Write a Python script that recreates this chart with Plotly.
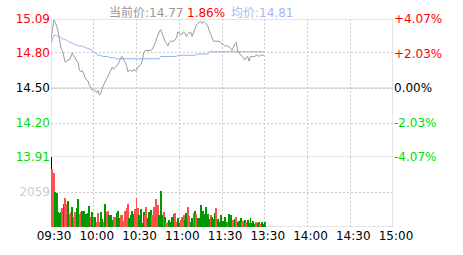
import plotly.graph_objects as go

# ---------------- data ----------------
prev_close = 14.50
cur_price = 14.77
cur_pct = 1.86
avg_price_now = 14.81

price_ticks = [13.91, 14.20, 14.50, 14.80, 15.09]
pct_ticks = [-4.07, -2.03, 0.00, 2.03, 4.07]
vol_tick = 2059
vol_max = 4118

time_tickvals = [0, 30, 60, 90, 120, 150, 180, 210, 240]
time_ticktext = ["09:30", "10:00", "10:30", "11:00", "11:30", "13:30", "14:00", "14:30", "15:00"]

minutes = list(range(151))

prices = [
    14.92, 15.01, 15.08, 15.06, 15.03, 14.98, 14.89, 14.84, 14.82, 14.78,
    14.72, 14.73, 14.74, 14.74, 14.78, 14.80, 14.77, 14.76, 14.73, 14.72,
    14.65, 14.64, 14.65, 14.61, 14.59, 14.57, 14.56, 14.52, 14.50, 14.48,
    14.49, 14.48, 14.46, 14.48, 14.44, 14.46, 14.50, 14.53, 14.56, 14.58,
    14.60, 14.63, 14.65, 14.68, 14.66, 14.68, 14.69, 14.70, 14.73, 14.76,
    14.77, 14.75, 14.72, 14.69, 14.64, 14.65, 14.65, 14.64, 14.66, 14.65,
    14.65, 14.68, 14.69, 14.70, 14.73, 14.80, 14.82, 14.82, 14.82, 14.82,
    14.82, 14.83, 14.85, 14.88, 14.92, 14.96, 14.98, 15.00, 14.96, 14.93,
    14.90, 14.88, 14.86, 14.89, 14.90, 14.90, 14.90, 14.91, 14.93, 14.98,
    14.97, 14.96, 14.96, 14.98, 14.97, 14.94, 14.96, 14.97, 14.98, 14.94,
    14.98, 15.02, 15.04, 15.05, 15.06, 15.07, 15.05, 15.07, 15.06, 15.04,
    15.03, 14.99, 14.96, 14.92, 14.90, 14.90, 14.90, 14.90, 14.90, 14.89,
    14.88, 14.87, 14.86, 14.86, 14.86, 14.85, 14.84, 14.82, 14.86, 14.88,
    14.89, 14.82, 14.80, 14.78, 14.77, 14.76, 14.74, 14.76, 14.77, 14.73,
    14.77, 14.77, 14.77, 14.77, 14.78, 14.78, 14.77, 14.78, 14.78, 14.78,
    14.77,
]

avg_prices = [
    14.88, 14.92, 14.95, 14.95, 14.95, 14.94, 14.94, 14.93, 14.92, 14.92,
    14.91, 14.91, 14.90, 14.89, 14.89, 14.88, 14.88, 14.87, 14.87, 14.86,
    14.86, 14.86, 14.86, 14.85, 14.85, 14.84, 14.84, 14.83, 14.83, 14.82,
    14.81, 14.80, 14.79, 14.78, 14.78, 14.78, 14.77, 14.77, 14.77, 14.77,
    14.77, 14.76, 14.76, 14.76, 14.76, 14.75, 14.75, 14.75, 14.75, 14.75,
    14.745, 14.745, 14.745, 14.745, 14.745, 14.745, 14.745, 14.745, 14.745, 14.745,
    14.745, 14.745, 14.745, 14.745, 14.75, 14.75, 14.75, 14.75, 14.75, 14.75,
    14.75, 14.75, 14.75, 14.75, 14.75, 14.75, 14.75, 14.77, 14.77, 14.77,
    14.77, 14.77, 14.77, 14.77, 14.77, 14.77, 14.77, 14.77, 14.77, 14.78,
    14.78, 14.78, 14.78, 14.78, 14.78, 14.78, 14.78, 14.78, 14.78, 14.78,
    14.78, 14.78, 14.79, 14.79, 14.79, 14.79, 14.79, 14.79, 14.79, 14.79,
    14.79, 14.81, 14.81, 14.81, 14.81, 14.81, 14.81, 14.81, 14.81, 14.81,
    14.81, 14.81, 14.81, 14.81, 14.81, 14.81, 14.81, 14.81, 14.81, 14.81,
    14.81, 14.81, 14.81, 14.81, 14.81, 14.81, 14.81, 14.81, 14.81, 14.81,
    14.81, 14.81, 14.81, 14.81, 14.81, 14.81, 14.81, 14.81, 14.81, 14.81,
    14.81,
]

volumes = [
    4118, 3390, 3170, 2060, 2000, 890, 800, 880, 1130, 1340,
    1720, 1350, 1500, 780, 880, 1190, 580, 880, 1130, 1630,
    780, 860, 950, 950, 740, 740, 800, 1220, 590, 880,
    590, 590, 300, 830, 270, 880, 460, 270, 1340, 880,
    950, 700, 720, 430, 590, 590, 840, 950, 500, 720,
    680, 360, 920, 1090, 1340, 500, 720, 950, 760, 1060,
    1720, 1090, 700, 1060, 260, 880, 700, 1170, 500, 900,
    1000, 730, 1200, 1050, 1630, 1310, 680, 2100, 720, 890,
    560, 220, 320, 400, 280, 580, 770, 820, 320, 500,
    250, 400, 600, 720, 420, 800, 1190, 620, 300, 500,
    820, 940, 760, 540, 540, 1280, 920, 950, 760, 1190,
    760, 460, 720, 560, 460, 820, 1130, 480, 280, 720,
    300, 350, 560, 320, 280, 780, 680, 320, 400, 460,
    600, 300, 380, 500, 280, 350, 420, 300, 400, 260,
    500, 230, 350, 200, 280, 220, 300, 200, 300, 180,
    280,
]

# 2 = opening auction, 1 = up (red), 0 = down (green)
vol_dir = [
    2, 1, 1, 0, 0, 0, 0, 0, 1, 0,
    1, 1, 0, 1, 1, 0, 1, 1, 0, 0,
    1, 1, 0, 0, 0, 0, 0, 0, 1, 0,
    1, 0, 1, 1, 1, 0, 0, 1, 0, 1,
    1, 0, 0, 0, 1, 1, 0, 0, 0, 1,
    1, 1, 1, 1, 1, 0, 0, 0, 0, 1,
    1, 1, 0, 0, 0, 0, 1, 1, 0, 0,
    0, 1, 1, 1, 1, 1, 0, 0, 0, 1,
    0, 1, 1, 0, 0, 0, 0, 1, 1, 0,
    0, 1, 1, 1, 0, 0, 1, 1, 0, 0,
    1, 0, 1, 0, 0, 0, 0, 0, 0, 0,
    0, 0, 1, 0, 0, 0, 1, 0, 0, 0,
    0, 0, 0, 0, 1, 0, 0, 0, 1, 0,
    1, 0, 0, 0, 1, 1, 0, 1, 0, 0,
    0, 0, 0, 0, 1, 0, 0, 1, 0, 0,
    0,
]

# ---------------- styling ----------------
RED = "#ff0000"
GREEN = "#00dd00"
BAR_RED = "#ff5050"
BAR_GREEN = "#009900"
GRID = "#cccccc"
FONT = "DejaVu Sans, Noto Sans CJK SC, sans-serif"

bar_colors = ["#000000" if d == 2 else (BAR_RED if d == 1 else BAR_GREEN) for d in vol_dir]
pct_values = [(p / prev_close - 1) * 100 for p in prices]


def tick_color(v, ref):
    if v > ref:
        return RED
    if v < ref:
        return GREEN
    return "#000000"


price_ticktext = [f'<span style="color:{tick_color(v, prev_close)}">{v:.2f}</span>' for v in price_ticks]
pct_ticktext = []
for v in pct_ticks:
    s = f"+{v:.2f}%" if v > 0 else f"{v:.2f}%"
    pct_ticktext.append(f'<span style="color:{tick_color(v, 0)}">{s}</span>')

H_PRICE = 146
H_VOL = 74
split = H_VOL / (H_PRICE + H_VOL)

fig = go.Figure()
fig.add_trace(go.Bar(x=minutes, y=volumes, marker=dict(color=bar_colors, line=dict(width=0)),
                     width=0.7, xaxis="x", yaxis="y2", hoverinfo="skip"))
fig.add_trace(go.Scatter(x=minutes, y=pct_values, mode="lines", line=dict(width=0, color="rgba(0,0,0,0)"),
                         xaxis="x", yaxis="y3", hoverinfo="skip"))
fig.add_trace(go.Scatter(x=minutes, y=avg_prices, mode="lines", line=dict(color="#8fb2ee", width=1),
                         xaxis="x", yaxis="y", hoverinfo="skip"))
fig.add_trace(go.Scatter(x=minutes, y=prices, mode="lines", line=dict(color="#9a9a9a", width=1),
                         xaxis="x", yaxis="y", hoverinfo="skip"))

shapes = []
for v in [price_ticks[0], prev_close, price_ticks[-1]]:
    shapes.append(dict(type="line", xref="paper", x0=0, x1=1, yref="y", y0=v, y1=v,
                       line=dict(color=GRID, width=1), layer="below"))
shapes.append(dict(type="line", xref="paper", x0=0, x1=1, yref="y2", y0=0, y1=0,
                   line=dict(color=GRID, width=1), layer="below"))
for v in [time_tickvals[0], time_tickvals[-1]]:
    shapes.append(dict(type="line", xref="x", x0=v, x1=v, yref="paper", y0=0, y1=1,
                       line=dict(color=GRID, width=1), layer="below"))

fig.update_layout(
    width=463, height=255,
    margin=dict(l=51, r=70, t=12, b=23, pad=0),
    paper_bgcolor="white", plot_bgcolor="white",
    showlegend=False, bargap=0,
    font=dict(family=FONT, size=12, color="#000000"),
    xaxis=dict(range=[0, 240], tickvals=time_tickvals, ticktext=time_ticktext,
               showgrid=True, gridcolor=GRID, griddash="2px,2px", gridwidth=1,
               zeroline=False, showline=False, ticks="", anchor="y2",
               tickfont=dict(size=12, color="#000000"), ticklabelshift=3),
    yaxis=dict(domain=[split, 1], range=[price_ticks[0], price_ticks[-1]],
               tickvals=price_ticks, ticktext=price_ticktext,
               showgrid=True, gridcolor=GRID, griddash="2px,2px", gridwidth=1,
               zeroline=False, showline=False, ticks="", anchor="x",
               tickfont=dict(size=12)),
    yaxis3=dict(range=[pct_ticks[0], pct_ticks[-1]], overlaying="y", side="right",
                tickvals=pct_ticks, ticktext=pct_ticktext, showgrid=False,
                zeroline=False, showline=False, ticks="", anchor="x",
                tickfont=dict(size=12)),
    yaxis2=dict(domain=[0, split], range=[0, vol_max], tickvals=[vol_tick],
                ticktext=[str(vol_tick)], showgrid=True, gridcolor=GRID,
                griddash="2px,2px", gridwidth=1, zeroline=False, showline=False,
                ticks="", anchor="x", tickfont=dict(size=12, color="#cccccc")),
    shapes=shapes,
)

header_y = 1 + 6.5 / (H_PRICE + H_VOL)
plot_w = 342
annots = [
    (107, f"当前价:{cur_price:.2f}", "#999999"),
    (185, f"{cur_pct:.2f}%", RED),
    (229, f"均价:{avg_price_now:.2f}", "#9fbbee"),
]
for px, txt, col in annots:
    fig.add_annotation(x=(px - 51) / plot_w, y=header_y, xref="paper", yref="paper",
                       xanchor="left", yanchor="middle", showarrow=False, text=txt,
                       font=dict(family=FONT, size=12, color=col))

fig.write_html("out.html")
